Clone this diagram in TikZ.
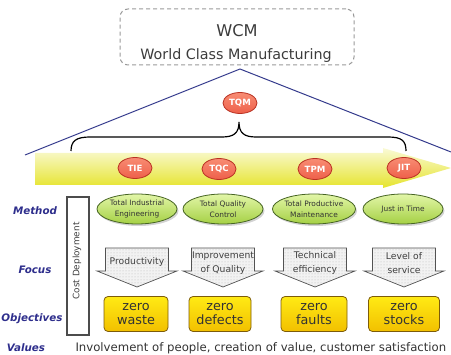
\documentclass[tikz,border=0pt]{standalone}
\usepackage{fontspec}
\setmainfont{DejaVu Sans}
\usetikzlibrary{shapes.geometric,patterns,shadows}

\definecolor{navy}{RGB}{46,46,140}
\definecolor{rayblue}{RGB}{52,58,140}
\definecolor{tomred}{RGB}{238,96,74}
\definecolor{tomlight}{RGB}{248,140,115}
\definecolor{tomedge}{RGB}{185,50,35}
\definecolor{leaf}{RGB}{165,208,68}
\definecolor{leaflight}{RGB}{226,246,168}
\definecolor{leafedge}{RGB}{70,100,35}
\definecolor{gold}{RGB}{255,234,20}
\definecolor{goldlow}{RGB}{242,192,0}
\definecolor{goldedge}{RGB}{125,92,10}
\definecolor{bandtop}{RGB}{250,250,214}
\definecolor{bandlow}{RGB}{230,228,44}
\definecolor{ink}{RGB}{60,60,60}

\begin{document}
\begin{tikzpicture}[x=1pt,y=-1pt,
  pillar/.style={ellipse, minimum width=34, minimum height=21, inner sep=0pt,
    top color=tomlight, bottom color=tomred, draw=tomedge, line width=0.8pt,
    text=white, font=\fontsize{8.6}{9}\selectfont\bfseries},
  methodbox/.style={ellipse, minimum width=80, minimum height=30, inner sep=0pt,
    top color=leaflight, bottom color=leaf, draw=leafedge, line width=0.8pt,
    drop shadow={shadow xshift=1.5pt, shadow yshift=-2pt, opacity=0.35},
    align=center, text=black!80, font=\fontsize{7.4}{10.5}\selectfont},
  goalbox/.style={rectangle, rounded corners=4pt, minimum height=35, inner sep=0pt,
    top color=gold, bottom color=goldlow, draw=goldedge, line width=0.8pt,
    align=center, text=black!80, font=\fontsize{12.8}{14.5}\selectfont},
  focustext/.style={align=center, text=black!75, font=\fontsize{9.2}{13.5}\selectfont},
  focusshape/.style={preaction={fill=gray!10}, pattern=dots, pattern color=gray!55,
    draw=gray!65!black, line width=0.7pt},
  rowlabel/.style={anchor=base, text=navy, font=\fontsize{10.3}{12}\selectfont\bfseries\itshape},
]
\useasboundingbox (0,0) rectangle (451,355);

% title box
\node[draw=gray!80, dashed, dash pattern=on 4pt off 3pt, line width=1pt,
      rounded corners=8pt, minimum width=234, minimum height=56] (wcm) at (237,37) {};
\node[anchor=base, text=ink, font=\fontsize{16.2}{18}\selectfont] (wcmtitle) at (237,37) {WCM};
\node[anchor=base, text=ink, font=\fontsize{14.3}{16}\selectfont] (wcmsub) at (236,60) {World Class Manufacturing};

% roof lines
\coordinate (apex) at (240,69);
\coordinate (roofl) at (25,155);
\coordinate (roofr) at (451,152);
\draw[rayblue, line width=1pt] (roofl) -- (apex) -- (roofr);

% pillar band
\shade[top color=bandtop, bottom color=bandlow]
  (35,153) -- (383,153) -- (383,148) -- (451,168) -- (383,188) -- (383,185) -- (35,185) -- cycle;

% brace
\draw[line width=1.2pt] (71,151) .. controls (71,141) and (76,137) .. (90,137)
  -- (222,137) .. controls (234,137) and (239,133) .. (239,122)
  .. controls (239,133) and (244,137) .. (256,137)
  -- (388,137) .. controls (402,137) and (406,141) .. (406,151);

% pillars
\node[pillar] (tqm) at (240,103) {TQM};
\node[pillar] (tie) at (135,168) {TIE};
\node[pillar] (tqc) at (219,169) {TQC};
\node[pillar] (tpm) at (315,169) {TPM};
\node[pillar] (jit) at (404,168) {JIT};

% cost deployment column
\node[draw=gray!60!black, line width=2.4pt, fill=white, minimum width=22, minimum height=138,
      inner sep=0pt] (cd) at (78,266) {};
\node[rotate=90, text=black!75, font=\fontsize{8.9}{10}\selectfont] (cdtext) at (77,261) {Cost Deployment};

% methods
\node[methodbox] (m1) at (137,209) {Total Industrial\\Engineering};
\node[methodbox] (m2) at (223,209) {Total Quality\\Control};
\node[methodbox] (m3) at (314,209) {Total Productive\\Maintenance};
\node[methodbox] (m4) at (403,209) {Just in Time};

% focus arrows
\foreach \c in {137,223,315,404}{
  \path[focusshape] ({\c-31.5},248) -- ({\c+31.5},248) -- ({\c+31.5},271) -- ({\c+40},271)
    -- (\c,287) -- ({\c-40},271) -- ({\c-31.5},271) -- cycle;
}
\node[focustext] (f1) at (137,262) {Productivity};
\node[focustext] (f2) at (223,263) {Improvement\\of Quality};
\node[focustext] (f3) at (315,263) {Technical\\efficiency};
\node[focustext] (f4) at (404,263) {Level of\\service};

% objectives
\node[goalbox, minimum width=64] (o1) at (136,314) {zero\\waste};
\node[goalbox, minimum width=62] (o2) at (220,314) {zero\\defects};
\node[goalbox, minimum width=66] (o3) at (314,314) {zero\\faults};
\node[goalbox, minimum width=71] (o4) at (404,314) {zero\\stocks};

% row labels
\node[rowlabel] (lmethod) at (35,215) {Method};
\node[rowlabel] (lfocus) at (35,274) {Focus};
\node[rowlabel] (lobj) at (32,322) {Objectives};
\node[rowlabel] (lvalues) at (26,352) {Values};
\node[anchor=base west, text=black!80, font=\fontsize{11.7}{12}\selectfont] (values) at (72,352)
  {Involvement of people, creation of value, customer satisfaction};
\end{tikzpicture}
\end{document}
